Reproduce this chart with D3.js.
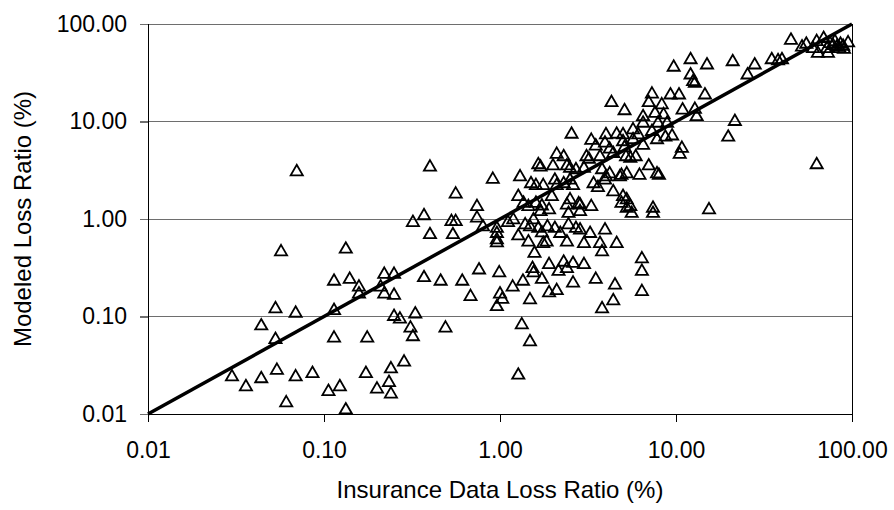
<!DOCTYPE html>
<html>
<head>
<meta charset="utf-8">
<script src="https://cdn.jsdelivr.net/npm/d3@7"></script>
<style>
  html, body { margin: 0; padding: 0; background: #fff; }
  svg { display: block; font-family: "Liberation Sans", Arial, sans-serif; }
</style>
</head>
<body>
<svg id="chart" width="894" height="510"></svg>
<script>
// Observed (insurance data) loss ratio, %
const insuranceLR = [
  0.030,0.036,0.044,0.054,0.061,0.044,0.053,0.053,0.069,0.069,0.057,
  0.070,0.40,0.56,0.74,0.74,0.37,0.32,0.53,0.56,0.40,0.54,0.133,0.114,0.14,0.158,0.158,0.22,0.25,0.21,0.22,0.25,0.37,0.46,0.61,0.76,0.68,
  0.114,0.25,0.27,0.33,0.31,0.32,0.49,0.114,0.176,0.086,0.106,0.123,0.133,0.173,0.20,0.234,0.24,0.24,0.285,
  4.3,5.1,7.3,7.0,8.3,6.5,7.6,8.5,6.5,7.9,8.9,2.55,4.0,4.6,5.0,5.7,6.1,7.3,8.7,7.8,3.3,3.5,3.95,4.2,5.0,5.1,5.7,6.5,
  2.1,2.3,3.1,3.2,3.7,4.4,5.2,5.5,5.9,1.65,1.7,2.0,2.4,2.5,2.7,3.0,3.8,4.2,4.9,5.25,6.2,7.0,7.8,8.0,
  0.91,1.3,1.5,1.6,1.76,2.05,2.1,2.3,2.5,2.6,3.4,3.6,3.95,4.0,4.4,4.8,
  1.27,1.36,1.6,1.73,1.97,2.5,2.8,3.3,5.0,5.25,5.5,7.4,
  1.45,1.7,1.9,2.4,2.45,2.85,2.85,4.9,5.25,5.6,7.4,
  1.11,0.96,0.96,0.96,0.96,0.80,1.19,1.27,1.39,1.45,1.48,1.55,1.65,1.73,1.76,1.84,1.86,2.05,2.2,2.4,2.45,2.7,2.85,3.0,3.25,3.7,3.8,3.95,4.6,
  1.57,0.99,1.53,1.55,1.9,2.15,2.3,2.4,2.6,3.0,1.18,1.35,1.73,2.6,3.5,4.5,6.4,6.4,6.4,
  1.0,1.03,0.96,1.48,1.9,2.1,3.8,4.4,1.33,1.48,1.27,
  45,52,55,63,69,64,73,75,80,82,85,89,95,72,60,78,86,90,
  9.7,12.1,15,21,28,25.5,35,38,40,12.1,12.5,12.8,9.3,10.4,14.6,10.9,12.8,13.1,21.6,19.8,9.5,10.8,10.5,63,15.4
];

// Modeled loss ratio, %
const modeledLR = [
  0.024,0.019,0.023,0.028,0.013,0.080,0.12,0.058,0.108,0.024,0.46,
  3.05,3.4,1.8,1.34,1.02,1.08,0.92,0.94,0.94,0.69,0.69,0.49,0.23,0.24,0.20,0.17,0.27,0.27,0.20,0.17,0.165,0.25,0.23,0.23,0.30,0.16,
  0.115,0.10,0.094,0.106,0.076,0.062,0.076,0.060,0.060,0.026,0.017,0.019,0.011,0.026,0.018,0.021,0.029,0.016,0.034,
  15.6,12.9,19.1,15.6,14.8,11.2,12.1,11.7,9.6,9.6,9.6,7.4,7.3,7.4,7.3,8.2,7.3,7.9,6.9,6.5,6.4,5.6,6.0,5.2,6.2,5.4,6.5,5.7,
  4.6,4.35,4.35,4.1,4.35,4.7,4.35,4.2,4.35,3.6,3.4,3.5,3.5,3.3,3.2,3.3,3.2,2.9,2.8,2.9,2.8,3.5,2.9,2.8,
  2.55,2.7,2.3,2.2,2.2,2.5,2.2,2.3,2.5,2.2,2.3,2.1,2.5,2.7,1.9,2.7,
  1.7,1.45,1.45,1.36,1.7,1.57,1.43,1.34,1.7,1.57,1.34,1.29,
  1.34,1.19,1.24,1.39,1.14,1.39,1.19,1.45,1.29,1.14,1.14,
  0.92,0.80,0.71,0.61,0.57,0.83,0.98,0.67,0.87,0.58,0.83,0.98,0.80,0.72,0.56,0.58,0.83,0.80,0.71,0.58,0.87,0.80,0.77,0.56,0.71,0.56,0.46,0.77,0.56,
  0.445,0.28,0.31,0.28,0.34,0.29,0.36,0.31,0.35,0.34,0.20,0.23,0.24,0.22,0.24,0.21,0.39,0.29,0.18,
  0.17,0.15,0.126,0.148,0.175,0.184,0.12,0.145,0.082,0.055,0.025,
  68,58,62,66,71,50,50,63,66,58,56,59,64,56,56,60,62,55,
  36,43,38,41,38,30,43,42,43,30,25.6,24.6,18.7,18.7,18.7,13.1,13.3,11.2,10,6.9,7.1,5.3,4.6,3.6,1.24
];

// Axis ticks (both axes share the same decades)
const tickValues = [0.01, 0.1, 1, 10, 100];
const xTitle = "Insurance Data Loss Ratio (%)";
const yTitle = "Modeled Loss Ratio (%)";

const points = insuranceLR.map((v, i) => ({ x: v, y: modeledLR[i] }));

const svg = d3.select("#chart");
const plot = { left: 148, right: 852, top: 24, bottom: 414 };

const x = d3.scaleLog().domain([0.01, 100]).range([plot.left, plot.right]);
const y = d3.scaleLog().domain([0.01, 100]).range([plot.bottom, plot.top]);
const fmt = d3.format(".2f");

// Horizontal gridlines (extend left as tick marks)
svg.append("g")
  .selectAll("line")
  .data(tickValues.slice(1))
  .join("line")
  .attr("x1", plot.left - 8).attr("x2", plot.right)
  .attr("y1", d => y(d)).attr("y2", d => y(d))
  .attr("stroke", "#6e6e6e").attr("stroke-width", 1)
  .attr("shape-rendering", "crispEdges");

// Y axis
const yAxis = svg.append("g")
  .attr("transform", `translate(${plot.left},0)`)
  .call(d3.axisLeft(y).tickValues(tickValues).tickFormat(fmt).tickSize(8).tickPadding(13));
yAxis.select(".domain").attr("stroke", "#000").attr("shape-rendering", "crispEdges");
yAxis.selectAll(".tick line").attr("stroke", "#6e6e6e").attr("shape-rendering", "crispEdges");
yAxis.selectAll("text").attr("font-size", 23).attr("fill", "#000")
  .attr("font-family", "Liberation Sans, Arial, sans-serif");

// X axis
const xAxis = svg.append("g")
  .attr("transform", `translate(0,${plot.bottom})`)
  .call(d3.axisBottom(x).tickValues(tickValues).tickFormat(fmt).tickSize(8).tickPadding(20));
xAxis.select(".domain").attr("stroke", "#000").attr("shape-rendering", "crispEdges");
xAxis.selectAll(".tick line").attr("stroke", "#000").attr("shape-rendering", "crispEdges");
xAxis.selectAll("text").attr("font-size", 23).attr("fill", "#000")
  .attr("font-family", "Liberation Sans, Arial, sans-serif");

// Right border of plot area
svg.append("line")
  .attr("x1", plot.right).attr("x2", plot.right)
  .attr("y1", plot.top).attr("y2", plot.bottom)
  .attr("stroke", "#000").attr("stroke-width", 1)
  .attr("shape-rendering", "crispEdges");

// Scatter of open triangles
const tri = d3.symbol().type(d3.symbolTriangle).size(64);
svg.append("g")
  .selectAll("path")
  .data(points)
  .join("path")
  .attr("d", tri)
  .attr("transform", d => `translate(${x(d.x)},${y(d.y)})`)
  .attr("fill", "none")
  .attr("stroke", "#000")
  .attr("stroke-width", 1.8);

// 1:1 reference line
svg.append("line")
  .attr("x1", x(0.01)).attr("y1", y(0.01))
  .attr("x2", x(100)).attr("y2", y(100))
  .attr("stroke", "#000").attr("stroke-width", 3.5);

// Axis titles
svg.append("text")
  .attr("x", (plot.left + plot.right) / 2).attr("y", 498)
  .attr("text-anchor", "middle")
  .attr("font-size", 24)
  .text(xTitle);

svg.append("text")
  .attr("transform", `translate(31,${(plot.top + plot.bottom) / 2}) rotate(-90)`)
  .attr("text-anchor", "middle")
  .attr("font-size", 24)
  .text(yTitle);
</script>
</body>
</html>
